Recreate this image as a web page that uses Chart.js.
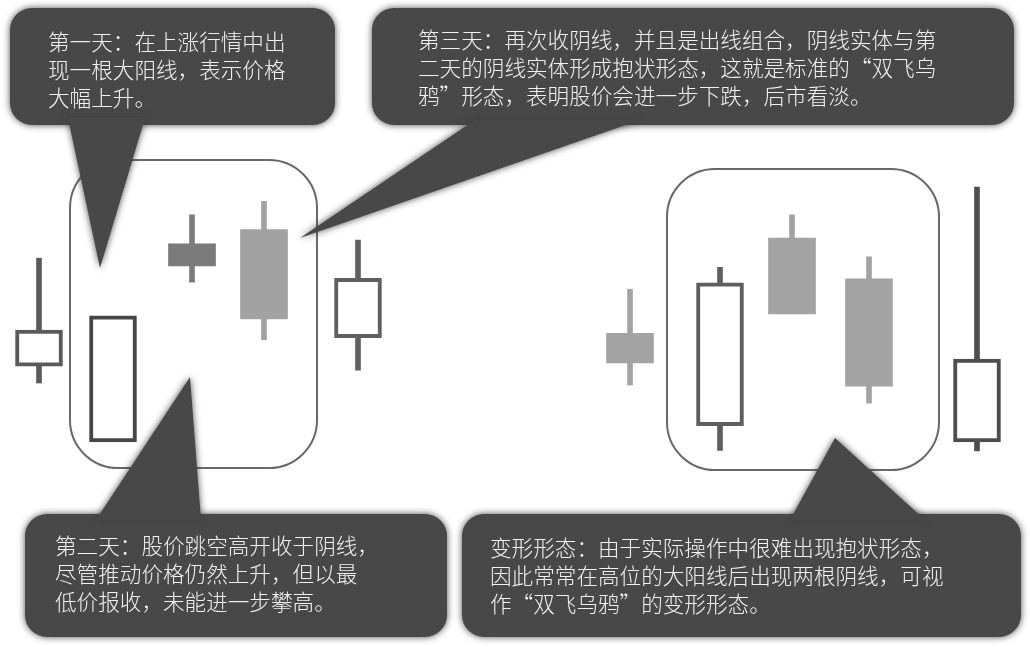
<!DOCTYPE html>
<html>
<head>
<meta charset="utf-8">
<script src="https://cdn.jsdelivr.net/npm/chart.js@4"></script>
<style>
  html, body { margin: 0; padding: 0; background: #fff; }
  #wrap { width: 1030px; height: 647px; }
</style>
</head>
<body>
<div id="wrap"><canvas id="chart" width="1030" height="647"></canvas></div>
<script>
// candle positions along the strip (left group: 5 candles, right group: 5 candles)
const dayPos = [3.9, 11.3, 19.2, 26.4, 35.8, 63.0, 72.0, 79.2, 86.9, 97.7];
const opens  = [43.4, 51.2, 62.3, 64.5, 47.8, 48.5, 34.2, 63.2, 56.9, 31.7];
const closes = [49.0, 31.7, 58.9, 50.7, 57.0, 43.9, 56.3, 51.5, 40.3, 44.5];
const highs  = [60.1, 50.8, 66.8, 68.9, 62.9, 55.3, 58.7, 66.8, 60.3, 71.1];
const lows   = [40.8, 32.1, 56.4, 47.5, 42.8, 40.5, 30.4, 51.7, 37.7, 30.3];
// hollow = drawn as outline only
const hollow = [true, true, false, false, true, false, true, false, false, true];
const shades = ['#5a5a5a', '#464646', '#7b7b7b', '#a2a2a2', '#5f5f5f',
                '#a3a3a3', '#5e5e5e', '#a3a3a3', '#a3a3a3', '#4e4e4e'];

const notes = [
  ['第一天：在上涨行情中出', '现一根大阳线，表示价格', '大幅上升。'],
  ['第三天：再次收阴线，并且是出线组合，阴线实体与第', '二天的阴线实体形成抱状形态，这就是标准的“双飞乌', '鸦”形态，表明股价会进一步下跌，后市看淡。'],
  ['第二天：股价跳空高开收于阴线，', '尽管推动价格仍然上升，但以最', '低价报收，未能进一步攀高。'],
  ['变形形态：由于实际操作中很难出现抱状形态，', '因此常常在高位的大阳线后出现两根阴线，可视', '作“双飞乌鸦”的变形形态。']
];

// layout of the annotation shapes (pixels)
const frames = [[70, 160, 247, 308], [667, 169, 272, 301]];
const bubbles = [
  { box: [10, 8, 325, 117], tail: [[68, 118], [145, 118], [100, 268]], text: [48, 42], note: 0 },
  { box: [372, 8, 642, 117], tail: [[475, 120], [640, 120], [300, 238]], text: [418, 40], note: 1 },
  { box: [25, 514, 422, 123], tail: [[96, 520], [201, 520], [190, 377]], text: [55, 546], note: 2 },
  { box: [462, 514, 559, 123], tail: [[790, 520], [925, 520], [835, 438]], text: [490, 548], note: 3 }
];

const bodyData = dayPos.map((x, i) => ({ x: x, y: [opens[i], closes[i]] }));
const wickData = dayPos.map((x, i) => ({ x: x, y: [lows[i], highs[i]] }));

function roundRect(ctx, x, y, w, h, r) {
  ctx.beginPath();
  ctx.moveTo(x + r, y);
  ctx.arcTo(x + w, y, x + w, y + h, r);
  ctx.arcTo(x + w, y + h, x, y + h, r);
  ctx.arcTo(x, y + h, x, y, r);
  ctx.arcTo(x, y, x + w, y, r);
  ctx.closePath();
}

const decor = {
  id: 'decor',
  beforeDatasetsDraw(chart) {
    const ctx = chart.ctx;
    ctx.save();
    ctx.strokeStyle = '#686868';
    ctx.lineWidth = 2;
    frames.forEach(f => {
      roundRect(ctx, f[0], f[1], f[2], f[3], 48);
      ctx.stroke();
    });
    ctx.restore();
  },
  afterDraw(chart) {
    const ctx = chart.ctx;
    bubbles.forEach(b => {
      ctx.save();
      ctx.fillStyle = '#484848';
      ctx.shadowColor = 'rgba(60,60,60,0.9)';
      ctx.shadowBlur = 7;
      roundRect(ctx, b.box[0], b.box[1], b.box[2], b.box[3], 22);
      ctx.fill();
      ctx.beginPath();
      ctx.moveTo(b.tail[0][0], b.tail[0][1]);
      ctx.lineTo(b.tail[1][0], b.tail[1][1]);
      ctx.lineTo(b.tail[2][0], b.tail[2][1]);
      ctx.closePath();
      ctx.fill();
      ctx.restore();

      ctx.save();
      ctx.fillStyle = '#f2f2f2';
      ctx.font = '300 21.6px "Noto Sans CJK SC", sans-serif';
      ctx.textBaseline = 'middle';
      notes[b.note].forEach((line, k) => {
        ctx.fillText(line, b.text[0], b.text[1] + k * 28);
      });
      ctx.restore();
    });
  }
};

new Chart(document.getElementById('chart'), {
  type: 'bar',
  data: {
    datasets: [
      {
        label: 'body',
        data: bodyData,
        order: 0,
        grouped: false,
        barThickness: 47,
        backgroundColor: hollow.map((h, i) => h ? '#ffffff' : shades[i]),
        borderColor: shades,
        borderWidth: hollow.map(h => h ? 4 : 0),
        borderSkipped: false
      },
      {
        label: 'wick',
        data: wickData,
        order: 1,
        grouped: false,
        barThickness: 5,
        backgroundColor: shades,
        borderWidth: 0
      }
    ]
  },
  options: {
    responsive: false,
    animation: false,
    layout: { padding: 0 },
    plugins: { legend: { display: false }, tooltip: { enabled: false } },
    scales: {
      x: { type: 'linear', min: 0, max: 103, display: false, offset: false },
      y: { min: 0, max: 100, display: false }
    }
  },
  plugins: [decor]
});
</script>
</body>
</html>
